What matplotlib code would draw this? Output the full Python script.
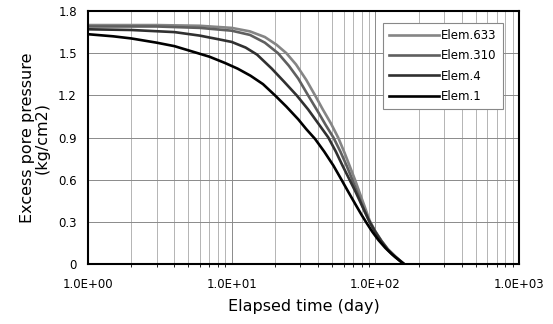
import matplotlib.pyplot as plt
from matplotlib.ticker import FixedLocator, LogLocator, NullFormatter

plt.rcParams['font.family'] = ['DejaVu Sans']

# elapsed time (day) and excess pore pressure (kg/cm2)
days633 = [1, 3, 6, 10, 13.4, 17, 20.5, 24, 28, 33, 38, 43, 49, 55, 61, 66, 72, 78, 84, 91, 100, 110, 122, 137, 150, 158]
elem633 = [1.70, 1.70, 1.695, 1.68, 1.655, 1.615, 1.56, 1.50, 1.42, 1.31, 1.20, 1.10, 1.00, 0.90, 0.79, 0.70, 0.60, 0.50, 0.41, 0.31, 0.23, 0.165, 0.105, 0.055, 0.02, 0.0]

days310 = [1, 3, 6, 10, 13.4, 17, 21, 25, 29, 34, 40, 45, 51, 57, 63, 69, 76, 83, 91, 100, 110, 122, 137, 150, 158]
elem310 = [1.69, 1.69, 1.68, 1.66, 1.63, 1.575, 1.50, 1.41, 1.32, 1.20, 1.08, 0.99, 0.90, 0.80, 0.70, 0.60, 0.49, 0.39, 0.30, 0.23, 0.165, 0.105, 0.055, 0.02, 0.0]

days4 = [1, 2, 4, 6, 8, 10, 12.5, 15, 19, 23, 28.3, 34, 40, 47, 53, 59, 66, 73, 81, 91, 100, 110, 122, 137, 150, 158]
elem4 = [1.67, 1.665, 1.65, 1.625, 1.60, 1.58, 1.54, 1.49, 1.39, 1.30, 1.20, 1.10, 1.00, 0.90, 0.80, 0.70, 0.60, 0.51, 0.41, 0.30, 0.225, 0.16, 0.10, 0.05, 0.018, 0.0]

days1 = [1, 1.5, 2, 3, 4, 5.6, 7, 9, 11, 13.5, 16.5, 20, 24, 29, 33, 38, 44, 51, 58, 65, 73, 80, 87, 95, 105, 117, 130, 145, 158]
elem1 = [1.635, 1.62, 1.605, 1.575, 1.55, 1.505, 1.475, 1.43, 1.39, 1.34, 1.28, 1.20, 1.12, 1.03, 0.96, 0.89, 0.80, 0.70, 0.60, 0.51, 0.42, 0.35, 0.29, 0.23, 0.17, 0.115, 0.07, 0.03, 0.0]

series = [('Elem.633', days633, elem633, '#858585'),
          ('Elem.310', days310, elem310, '#5f5f5f'),
          ('Elem.4', days4, elem4, '#303030'),
          ('Elem.1', days1, elem1, '#000000')]

x_ticks = [1, 10, 100, 1000]
x_labels = ['1.0E+00', '1.0E+01', '1.0E+02', '1.0E+03']
y_ticks = [0, 0.3, 0.6, 0.9, 1.2, 1.5, 1.8]
y_labels = ['0', '0.3', '0.6', '0.9', '1.2', '1.5', '1.8']

fig = plt.figure(figsize=(5.53, 3.24), dpi=100)
ax = fig.add_axes([0.159, 0.185, 0.78, 0.781])

for name, t, vals, col in series:
    ax.semilogx(t, vals, color=col, lw=1.9, label=name)

ax.set_xlim(1, 1000)
ax.set_ylim(0, 1.8)
ax.xaxis.set_major_locator(FixedLocator(x_ticks))
ax.xaxis.set_minor_locator(LogLocator(base=10, subs=range(2, 10)))
ax.xaxis.set_minor_formatter(NullFormatter())
ax.set_xticks(x_ticks, x_labels)
ax.set_yticks(y_ticks, y_labels)
ax.tick_params(length=0, labelsize=8.5, pad=8)
ax.tick_params(axis='x', pad=10)

ax.grid(which='major', color='#8a8a8a', lw=0.7)
ax.grid(which='minor', axis='x', color='#a8a8a8', lw=0.6)
for s in ax.spines.values():
    s.set_linewidth(1.5)

ax.set_xlabel('Elapsed time (day)', fontsize=11.5, labelpad=6)
ax.set_ylabel('Excess pore pressure\n(kg/cm2)', fontsize=11.5, labelpad=6,
              linespacing=1.0)

leg = ax.legend(loc='upper right', bbox_to_anchor=(0.963, 0.953), fontsize=8.5,
                handlelength=4.2, handletextpad=0.2, labelspacing=0.6,
                borderaxespad=0, fancybox=False, framealpha=1, borderpad=0.55)
leg.get_frame().set_edgecolor('#888888')
leg.get_frame().set_linewidth(0.8)

fig.savefig('out.png', dpi=100)
